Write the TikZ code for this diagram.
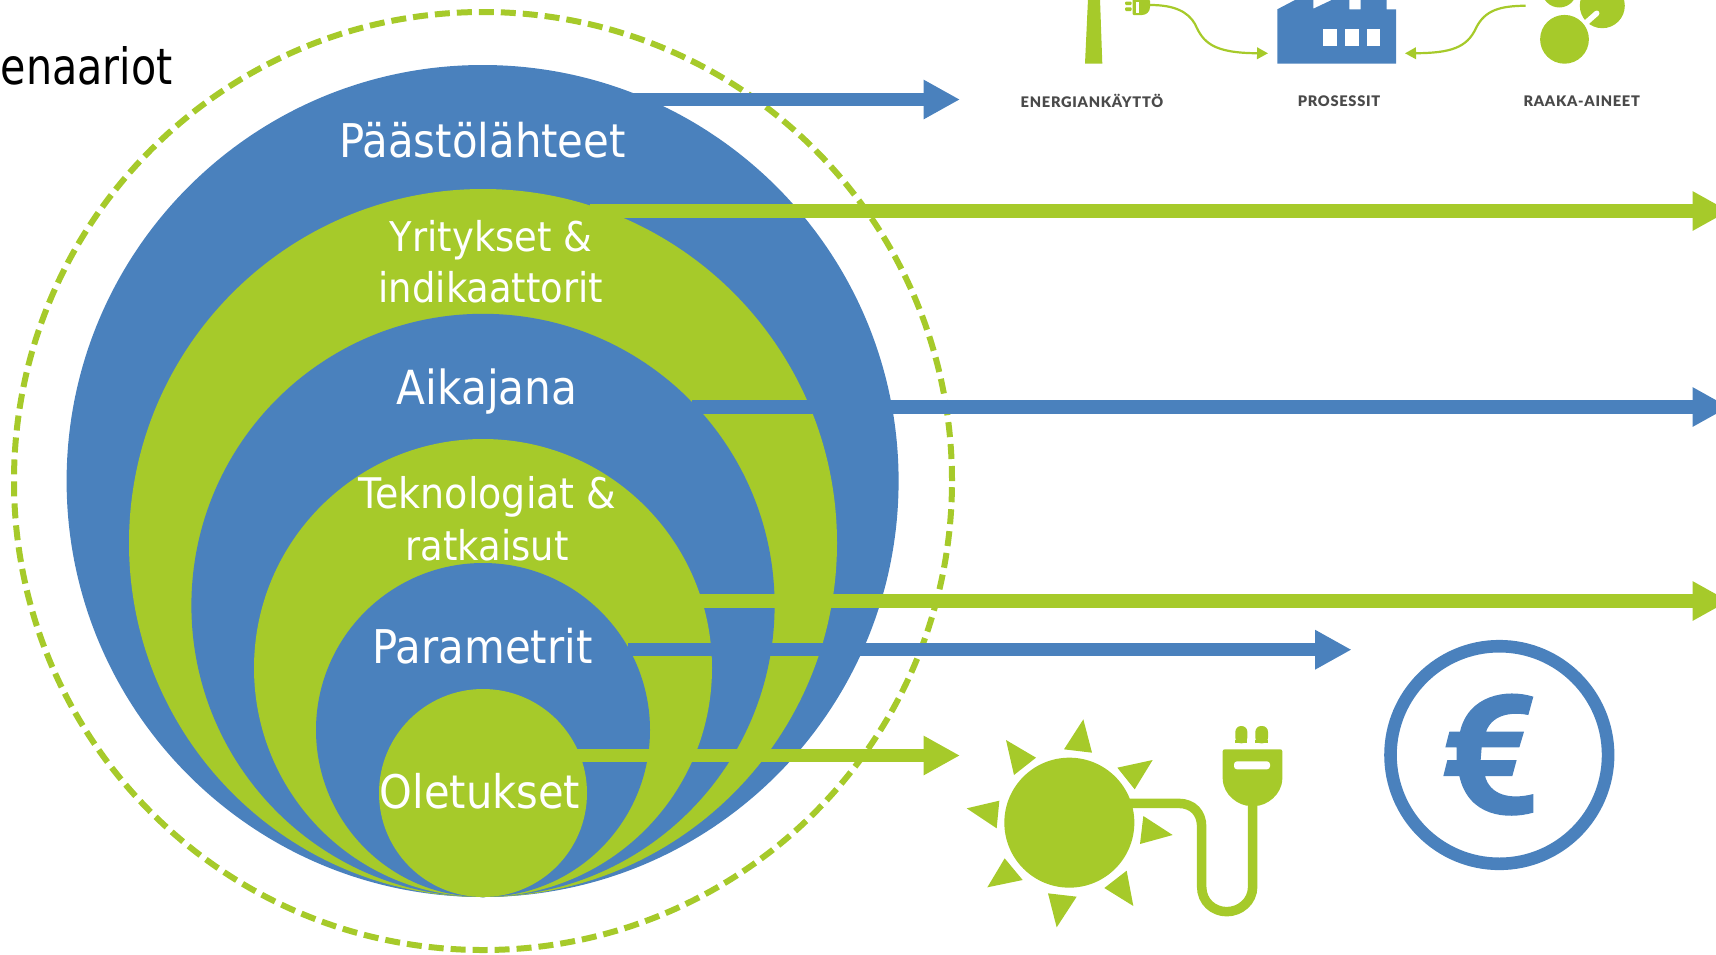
\documentclass[tikz,border=0pt]{standalone}
\usepackage{fontspec}
\setmainfont[FakeStretch=0.9]{DejaVu Sans}
\newfontfamily\titlefont[FakeStretch=0.825]{DejaVu Sans}
\newfontfamily\iconfont[LetterSpace=5]{Lato Black}
\usetikzlibrary{arrows.meta}
\definecolor{bluec}{HTML}{4A81BD}
\definecolor{greenc}{HTML}{A6CA2A}
\definecolor{labelc}{HTML}{4A4A4A}
\tikzset{
  disc/.style={circle,inner sep=0pt,outer sep=0pt,draw=none},
  bluedisc/.style={disc,fill=bluec},
  greendisc/.style={disc,fill=greenc},
  ringlabel/.style={text=white,inner sep=0pt,anchor=base,align=center},
  bigarrow/.style={line width=13.2pt,-{Triangle[length=36.5pt,width=37pt]}},
  smallarrow/.style={draw=greenc,line width=2.2pt,-{Triangle[length=11pt,width=11.5pt]}},
  iconlabel/.style={inner sep=0pt,text=labelc,font=\iconfont\fontsize{14.6}{16}\selectfont},
}
\begin{document}
\begin{tikzpicture}[x=1pt,y=-1pt]
\useasboundingbox (0,0) rectangle (1716,954);
\clip (0,0) rectangle (1716,954);
% dashed ring and nested discs
\node[disc,minimum size=938pt,draw=greenc,line width=6pt,dash pattern=on 15pt off 7pt] (ring) at (483,481) {};
\node[bluedisc,minimum size=832pt] (c1) at (482.6,481) {};
\node[greendisc,minimum size=708pt] (c2) at (483,543) {};
\node[bluedisc,minimum size=583.2pt] (c3) at (483,605.4) {};
\node[greendisc,minimum size=458pt] (c4) at (483,668) {};
\node[bluedisc,minimum size=334pt] (c5) at (483,730) {};
\node[greendisc,minimum size=208pt] (c6) at (483,793) {};
% labels
\node[ringlabel,font=\fontsize{46.5}{50}\selectfont] (t1) at (482.5,157.7) {Päästölähteet};
\node[ringlabel,font=\fontsize{41}{50}\selectfont] (t2a) at (491,251) {Yritykset \&};
\node[ringlabel,font=\fontsize{41}{50}\selectfont] (t2b) at (491,302.8) {indikaattorit};
\node[ringlabel,font=\fontsize{47}{50}\selectfont] (t3) at (487,404.8) {Aikajana};
\node[ringlabel,font=\fontsize{42.2}{50}\selectfont] (t4a) at (487.5,508.8) {Teknologiat \&};
\node[ringlabel,font=\fontsize{41}{50}\selectfont] (t4b) at (487,560) {ratkaisut};
\node[ringlabel,font=\fontsize{46.5}{50}\selectfont] (t5) at (482.6,663.8) {Parametrit};
\node[ringlabel,font=\fontsize{46.3}{50}\selectfont] (t6) at (480,808.8) {Oletukset};
\node[inner sep=0pt,anchor=base west,font=\titlefont\fontsize{50}{54}\selectfont,text=black] (title) at (0.5,84) {enaariot};
% big arrows
\coordinate (s1) at (632,99.5);  \coordinate (e1) at (960,99.5);
\coordinate (s2) at (590,211);   \coordinate (e2) at (1729,211);
\coordinate (s3) at (692,407);   \coordinate (e3) at (1729,407);
\coordinate (s4) at (698,601);   \coordinate (e4) at (1729,601);
\coordinate (s5) at (628,649.7); \coordinate (e5) at (1351.6,649.7);
\coordinate (s6) at (576,755.5); \coordinate (e6) at (960,755.5);
\draw[bigarrow,draw=bluec,fill=bluec] (s1) -- (e1);
\draw[bigarrow,draw=greenc,fill=greenc] (s2) -- (e2);
\draw[bigarrow,draw=bluec,fill=bluec] (s3) -- (e3);
\draw[bigarrow,draw=greenc,fill=greenc] (s4) -- (e4);
\draw[bigarrow,draw=bluec,fill=bluec] (s5) -- (e5);
\draw[bigarrow,draw=greenc,fill=greenc] (s6) -- (e6);
% wind tower
\fill[greenc] (1085,63.7) -- (1102.3,63.7) -- (1100,-1) -- (1088,-1) -- cycle;
% small plug
\fill[greenc,rounded corners=1pt] (1132.7,-2) -- (1146,-2) -- (1150,0) -- (1150,6) .. controls (1150,12) and (1146,15) .. (1141,15) -- (1132.7,15) -- cycle;
\fill[white] (1136,1.7) rectangle (1138.7,12.7);
\fill[greenc,rounded corners=1pt] (1125,1.7) rectangle (1131.7,5);
\fill[greenc,rounded corners=1pt] (1125,7.3) rectangle (1131.7,11);
% factory
\fill[bluec] (1277.3,63.7) -- (1277.3,9.3) -- (1295,0) -- (1313.3,0) -- (1313.3,8.7) -- (1331.7,0) -- (1349.3,0) -- (1349.3,9.3) -- (1360.7,9.3) -- (1360.7,0) -- (1386.7,0) -- (1386.7,9.3) -- (1396,9.3) -- (1396,63.7) -- cycle;
\fill[white] (1323.3,29) rectangle (1337.3,45.7);
\fill[white] (1345,29) rectangle (1359,45.7);
\fill[white] (1367,29) rectangle (1380,45.7);
% raw materials
\node[greendisc,minimum size=35pt] (m2) at (1559.3,-10) {};
\node[greendisc,minimum size=45pt] (m3) at (1602.3,5.7) {};
\draw[white,line width=5.5pt,line cap=round] (1596.7,13.3) -- (1588,21);
\draw[white,line width=5.5pt] (1588,21) -- (1583,25.5);
\node[greendisc,minimum size=48.8pt] (m1) at (1564.5,39.3) {};
% small curved arrows
\coordinate (p1) at (1150,5);      \coordinate (f) at (1268,53.3);
\coordinate (p2) at (1525.7,5.7);  \coordinate (g) at (1405,53.3);
\draw[smallarrow] (p1) .. controls (1175,5) and (1188,12) .. (1195,24) .. controls (1203,42) and (1212,53) .. (f);
\draw[smallarrow] (p2) .. controls (1500,6) and (1485,10) .. (1476,28) .. controls (1467,48) and (1450,53) .. (g);
% icon labels
\node[iconlabel] (l1) at (1092,101) {ENERGIANKÄYTTÖ};
\node[iconlabel] (l2) at (1339,101.5) {PROSESSIT};
\node[iconlabel] (l3) at (1581.7,101.5) {RAAKA-AINEET};
% euro
\node[disc,minimum size=217.6pt,draw=bluec,line width=12.6pt] (euro) at (1499.3,755) {};
\begin{scope}[shift={(1360,620)},x=0.33333pt,y=-0.33333pt]
\fill[bluec] (520,230) -- (505,285) .. controls (470,278) and (400,275) .. (378,335) -- (492,335) -- (478,382) -- (365,382) -- (362,420) -- (470,420) -- (457,468) -- (375,468) .. controls (390,525) and (450,540) .. (520,522) -- (520,578) .. controls (440,600) and (325,590) .. (298,468) -- (250,468) -- (262,420) -- (290,420) -- (290,382) -- (256,382) -- (268,335) -- (300,335) .. controls (325,225) and (440,205) .. (520,230) -- cycle;
\end{scope}
% sun with plug
\begin{scope}[shift={(940,690)},x=0.33333pt,y=-0.33333pt]
\fill[greenc] (388,398) circle[radius=195];
\fill[greenc] (430,88) -- (456,188) -- (372,178) -- cycle;
\fill[greenc] (198,150) -- (288,203) -- (222,255) -- cycle;
\fill[greenc] (638,210) -- (532,233) -- (584,298) -- cycle;
\fill[greenc] (80,355) -- (178,332) -- (170,415) -- cycle;
\fill[greenc] (698,435) -- (610,378) -- (600,462) -- cycle;
\fill[greenc] (142,592) -- (194,505) -- (248,570) -- cycle;
\fill[greenc] (580,648) -- (560,542) -- (493,594) -- cycle;
\fill[greenc] (350,712) -- (324,610) -- (410,620) -- cycle;
\draw[greenc,line width=9.5pt] (570,340) -- (715,340) .. controls (760,340) and (785,370) .. (785,410) -- (785,590) .. controls (785,635) and (820,665) .. (860,665) .. controls (900,665) and (938,635) .. (938,590) -- (938,340);
\fill[greenc,rounded corners=2pt] (848,178) -- (1027,178) -- (1027,262) .. controls (1025,315) and (980,348) .. (938,348) .. controls (895,348) and (850,315) .. (848,262) -- cycle;
\fill[greenc,rounded corners=5.8pt] (886,160) -- (886,108) -- (922,108) -- (922,160) -- cycle;
\fill[greenc,rounded corners=5.8pt] (946,160) -- (946,108) -- (984,108) -- (984,160) -- cycle;
\fill[greenc] (886,150) rectangle (922,160);
\fill[greenc] (946,150) rectangle (984,160);
\fill[white,rounded corners=3pt] (882,214) rectangle (990,238);
\end{scope}
\end{tikzpicture}
\end{document}
